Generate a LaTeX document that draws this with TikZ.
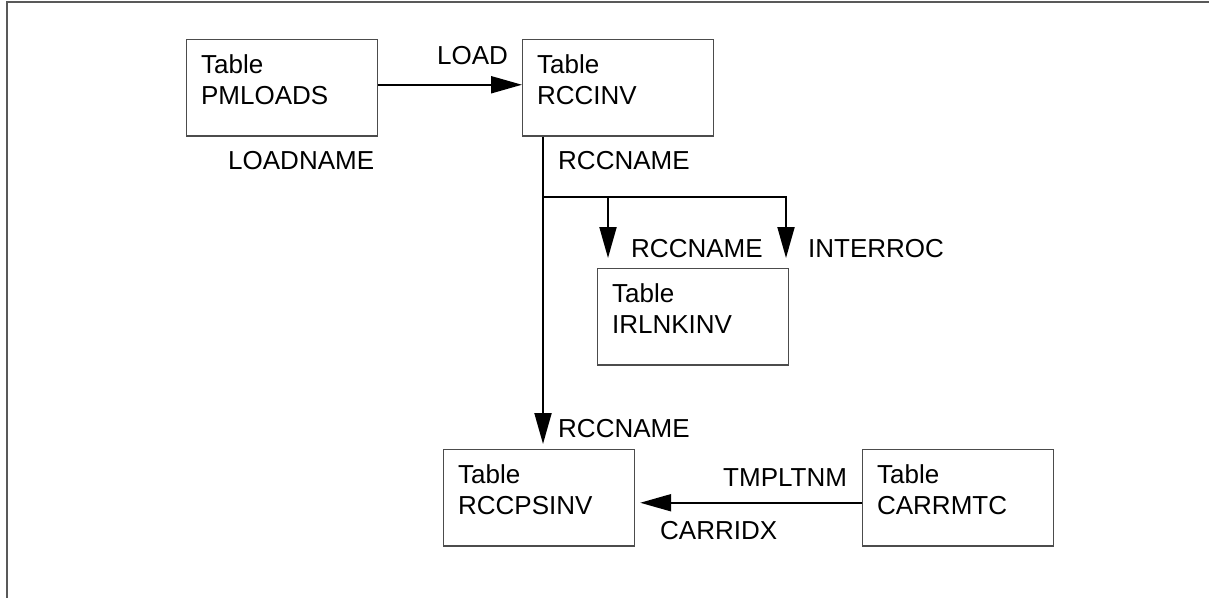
\documentclass[tikz,border=0pt]{standalone}
\usepackage{fontspec}
\setmainfont{Liberation Sans}
\usetikzlibrary{arrows.meta}
\begin{document}
\begin{tikzpicture}[x=1pt, y=-1pt, >={Triangle[length=31pt,width=17pt]},
          font=\fontsize{26}{31}\selectfont,
          tbl/.style={draw=black!70, line width=1.2pt, anchor=north west, align=left,
            text width=162pt, inner xsep=14.5pt, inner ysep=0pt, text height=33.6pt, text depth=62.7pt},
          fld/.style={anchor=base west, inner sep=0pt},
          link/.style={line width=2pt},
          outline/.style={draw=black!65, line width=2pt}]
        \useasboundingbox (0,0) rectangle (1209,598);
        \draw[outline] (1209,2) -- (7,2) -- (7,598);
        \node[tbl] (pmloads) at (186,39) {Table\\PMLOADS};
        \node[tbl] (rccinv) at (522,39) {Table\\RCCINV};
        \node[tbl] (irlnkinv) at (597,268) {Table\\IRLNKINV};
        \node[tbl] (rccpsinv) at (443,449) {Table\\RCCPSINV};
        \node[tbl] (carrmtc) at (862,449) {Table\\CARRMTC};
        \node[fld] (load) at (437,64) {LOAD};
        \node[fld] (loadname) at (228,169) {LOADNAME};
        \node[fld] (rccname) at (558,169) {RCCNAME};
        \node[fld] (irkey) at (631,257) {RCCNAME};
        \node[fld] (interroc) at (808,257) {INTERROC};
        \node[fld] (pskey) at (558,437) {RCCNAME};
        \node[fld] (tmpltnm) at (723,486) {TMPLTNM};
        \node[fld] (carridx) at (660,539) {CARRIDX};
        \coordinate (split) at (543,197);
        \coordinate (tee) at (608,197);
        \draw[link,->] ([yshift=3pt]pmloads.east) -- ([yshift=3pt]rccinv.west);
        \draw[link,->] ([xshift=21pt]rccinv.south west) -- ([xshift=100pt,yshift=5pt]rccpsinv.north west);
        \draw[link,->] (split) -| ([xshift=189pt,yshift=10pt]irlnkinv.north west);
        \draw[link,->] (tee) -- ([xshift=11pt,yshift=10pt]irlnkinv.north west);
        \draw[link,->] ([yshift=-5pt]carrmtc.west) -- ([xshift=5pt,yshift=-5pt]rccpsinv.east);
      \end{tikzpicture}
\end{document}
